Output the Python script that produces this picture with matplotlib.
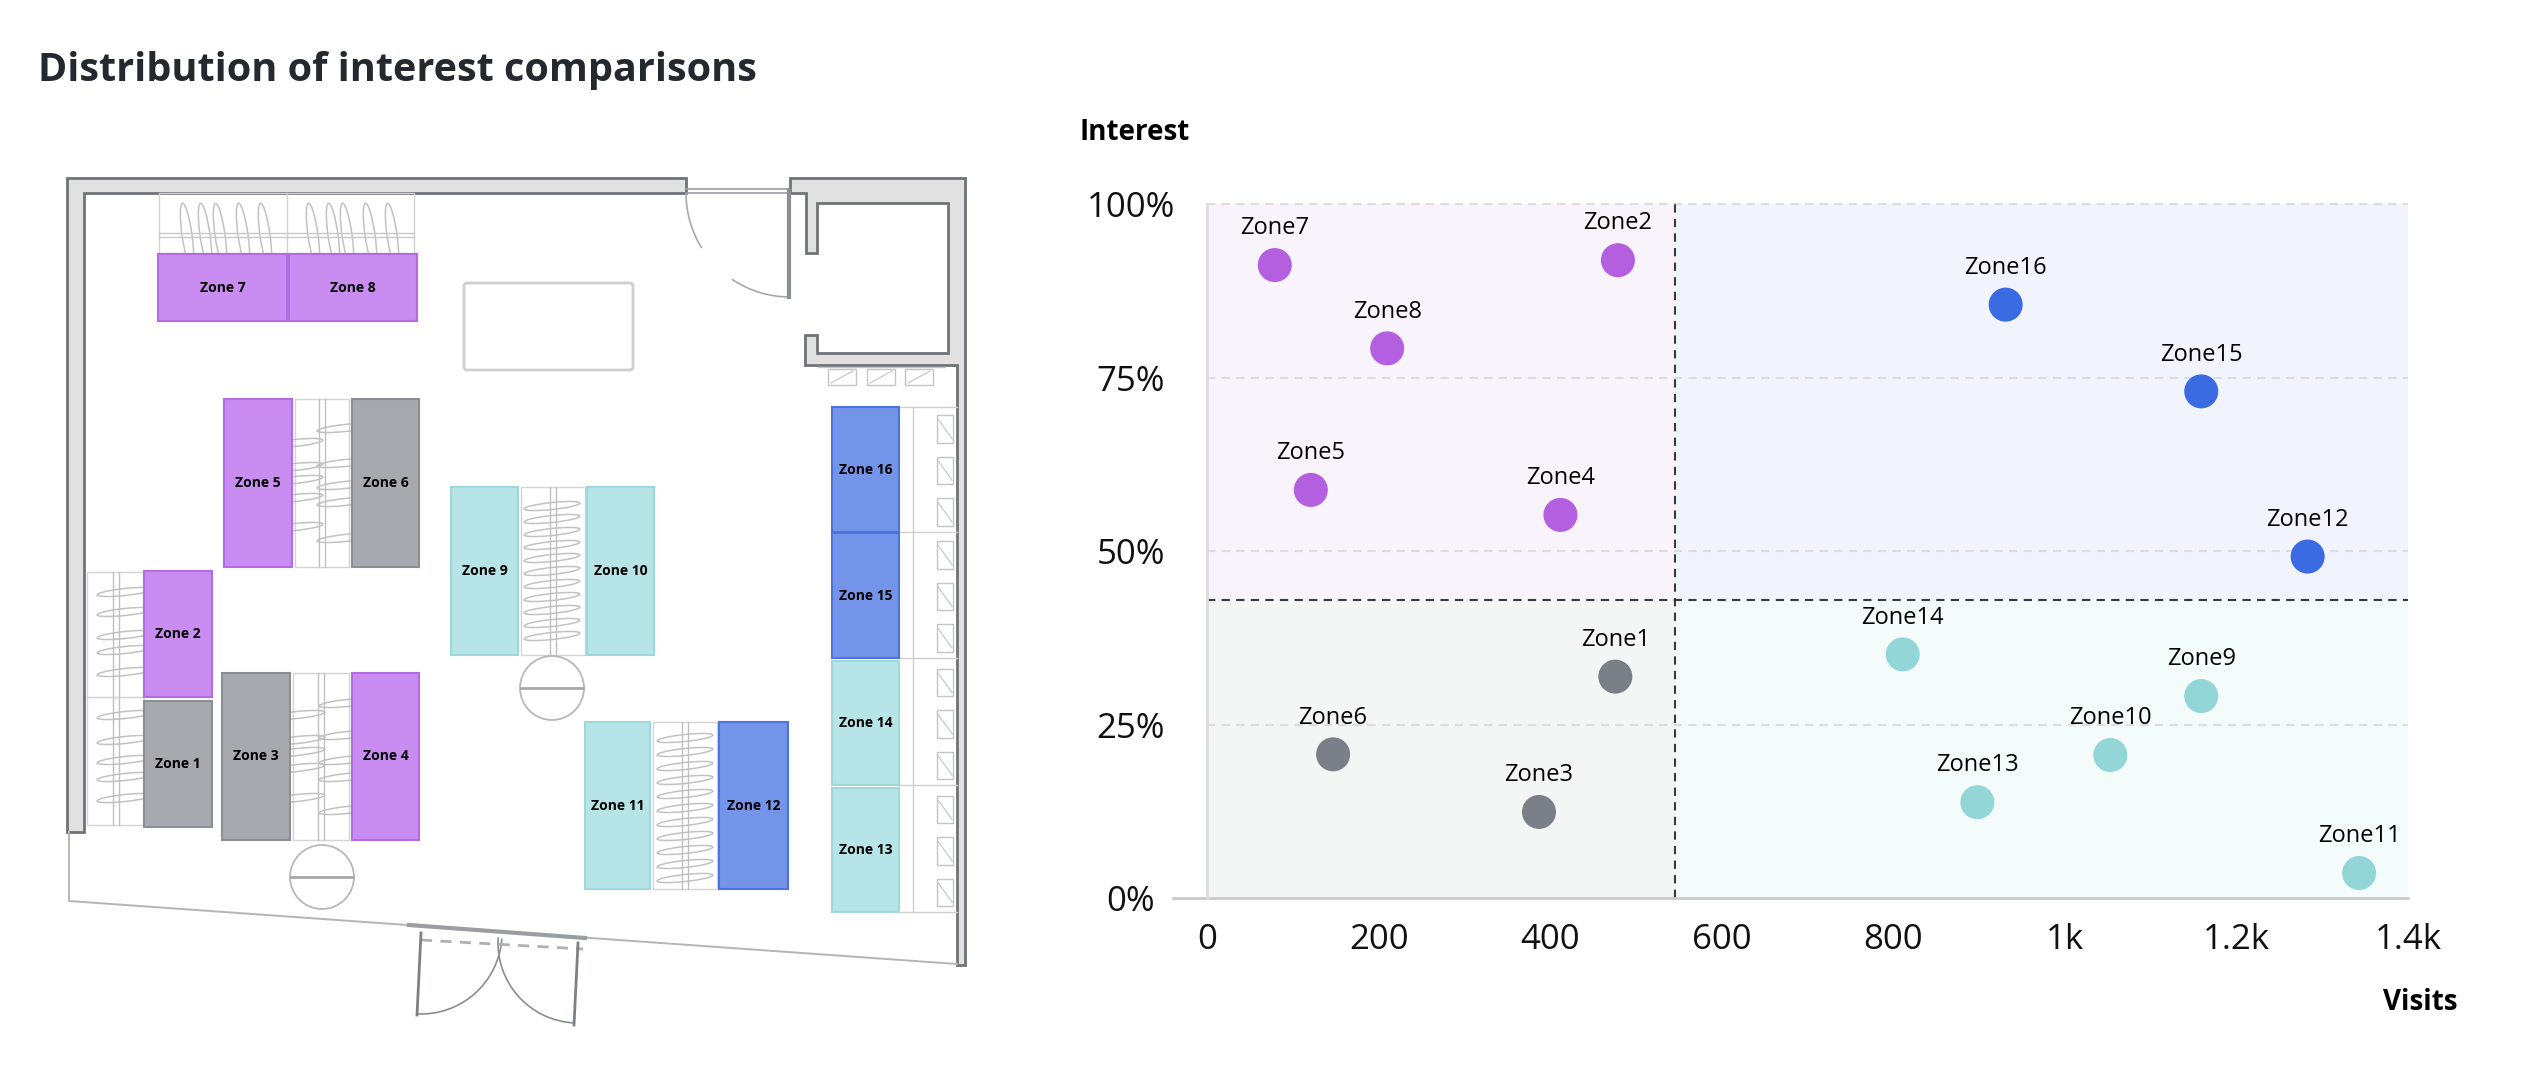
import matplotlib.pyplot as plt
from matplotlib.patches import Rectangle, Polygon, Circle, Arc, Ellipse, FancyBboxPatch

plt.rcParams['font.family'] = ['Open Sans', 'DejaVu Sans']

W, H = 2522, 1065

# scatter data
zones = ['Zone1', 'Zone2', 'Zone3', 'Zone4', 'Zone5', 'Zone6', 'Zone7', 'Zone8',
         'Zone9', 'Zone10', 'Zone11', 'Zone12', 'Zone13', 'Zone14', 'Zone15', 'Zone16']
visits = [476, 479, 387, 412, 121, 147, 79, 210, 1159, 1053, 1343, 1283, 898, 811, 1159, 931]
interest = [31.9, 91.9, 12.4, 55.2, 58.8, 20.7, 91.2, 79.2, 29.1, 20.6, 3.6, 49.2, 13.8, 35.1, 73.0, 85.5]
visit_split = 545
interest_split = 43

x_ticks = [0, 200, 400, 600, 800, 1000, 1200, 1400]
x_tick_labels = ['0', '200', '400', '600', '800', '1k', '1.2k', '1.4k']
y_ticks = [0, 25, 50, 75, 100]
y_tick_labels = ['0%', '25%', '50%', '75%', '100%']

# quadrant styles: (many visits, high interest) -> marker, background, plan fill, plan edge
quad_style = {
    (False, True): ('#b45ee0', '#f9f3fc', '#c98cf0', '#b46be6'),
    (True, True): ('#3a6be3', '#f1f4fd', '#7394e8', '#4c74dc'),
    (False, False): ('#7a7f88', '#f4f5f5', '#a6a9ae', '#8b8e93'),
    (True, False): ('#93d6d8', '#f4fbfb', '#b7e4e6', '#9fd8db'),
}

# floor plan zone boxes (plan pixel units: x0, y0, x1, y1)
plan_boxes = {
    'Zone1': (144, 701, 212, 827), 'Zone2': (144, 571, 212, 697),
    'Zone3': (222, 673, 290, 840), 'Zone4': (352, 673, 419, 840),
    'Zone5': (224, 399, 292, 567), 'Zone6': (352, 399, 419, 567),
    'Zone7': (158, 254, 287, 321), 'Zone8': (289, 254, 417, 321),
    'Zone9': (451, 487, 518, 655), 'Zone10': (587, 487, 654, 655),
    'Zone11': (585, 722, 650, 889), 'Zone12': (719, 722, 788, 889),
    'Zone13': (832, 788, 899, 912), 'Zone14': (832, 661, 899, 785),
    'Zone15': (832, 533, 899, 658), 'Zone16': (832, 407, 899, 532),
}


def quad(i):
    return (visits[i] > visit_split, interest[i] > interest_split)


def fx(px):
    return px / W


def fy(py):
    return 1 - py / H


fig = plt.figure(figsize=(W / 100, H / 100), dpi=100)

fig.text(fx(38), fy(71), 'Distribution of interest comparisons', fontsize=28.5,
         weight='bold', color='#24292f', va='center', ha='left')

# ---------------- floor plan ----------------
ap = fig.add_axes([0, 0, fx(1000), 1])
ap.set_xlim(0, 1000)
ap.set_ylim(H, 0)
ap.axis('off')

wall_fc = '#e1e1e1'
wall_ec = '#6f7278'
thin = '#c4c4c4'
hang = '#c2c2c2'

ap.add_patch(Polygon([(67, 178), (686, 178), (686, 193), (84, 193), (84, 832), (67, 832)],
                     closed=True, fc=wall_fc, ec=wall_ec, lw=2))
ap.add_patch(Polygon([(790, 178), (965, 178), (965, 965), (957, 965), (957, 365), (805, 365),
                      (805, 335), (817, 335), (817, 353), (948, 353), (948, 203), (817, 203),
                      (817, 253), (806, 253), (806, 193), (790, 193)],
                     closed=True, fc=wall_fc, ec=wall_ec, lw=2))
ap.plot([686, 790], [189, 189], color='#9a9da2', lw=1.2)
ap.plot([686, 790], [193, 193], color='#9a9da2', lw=1.2)
ap.plot([789, 789], [190, 297], color='#8c8f94', lw=3)
ap.add_patch(Arc((790, 193), 208, 208, theta1=90, theta2=124, color='#a8a8a8', lw=1.2))
ap.add_patch(Arc((790, 193), 208, 208, theta1=148, theta2=180, color='#a8a8a8', lw=1.2))

# table
ap.add_patch(FancyBboxPatch((464, 283), 169, 87, boxstyle='round,pad=0,rounding_size=3',
                            fc='white', ec='#cfcfcf', lw=2))

# small boxes below the back room
ap.plot([818, 945], [367, 367], color=thin, lw=1)
for bx in [828, 867, 905]:
    ap.add_patch(Rectangle((bx, 369), 28, 16, fc='none', ec=thin, lw=1))
    ap.plot([bx + 3, bx + 25], [383, 371], color=thin, lw=0.8)

# outer bottom outline and entrance
ap.plot([69, 69, 957], [832, 901, 964], color='#b5b5b5', lw=1.4)
ap.plot([409, 585], [925, 938], color='#9a9da2', lw=3)
ap.plot([421, 583], [940, 949], color='#b0b0b0', lw=2, ls=(0, (4, 3)))
ap.plot([421, 417], [933, 1015], color='#7d8086', lw=2)
ap.plot([578, 574], [943, 1025], color='#7d8086', lw=2)
ap.add_patch(Arc((421, 933), 162, 162, theta1=4, theta2=93, color='#8a8d92', lw=1.2))
ap.add_patch(Arc((578, 943), 160, 160, theta1=93, theta2=184, color='#8a8d92', lw=1.2))

# top rack with vertical hangers
ap.add_patch(Rectangle((159, 193), 255, 60, fc='none', ec='#d2d2d2', lw=1))
ap.plot([287, 287], [193, 253], color='#d2d2d2', lw=1)
ap.plot([159, 414], [233, 233], color='#c8c8c8', lw=1)
ap.plot([159, 414], [237, 237], color='#c8c8c8', lw=1)
for hx in [187, 205, 220, 243, 265, 313, 333, 347, 370, 392]:
    ap.add_patch(Ellipse((hx, 235), 10, 64, angle=-8, fc='none', ec=hang, lw=1.1))

# vertical racks with horizontal hangers
racks = [
    (295, 399, 349, 567, [(295, 443), (295, 467), (295, 480), (295, 498), (295, 527),
                          (345, 428), (345, 463), (345, 485), (345, 502), (345, 538)]),
    (293, 673, 349, 840, [(297, 715), (297, 740), (297, 752), (297, 768), (297, 798),
                          (347, 703), (347, 735), (347, 760), (347, 777), (347, 810)]),
    (87, 572, 144, 825, [(125, y) for y in [592, 612, 635, 650, 672, 715, 740, 760, 777, 798]]),
    (521, 487, 585, 655, [(552, y) for y in [506, 519, 532, 545, 558, 571, 584, 597, 610, 623, 636]]),
    (653, 722, 717, 889, [(685, y) for y in [738, 752, 766, 780, 794, 808, 822, 836, 850, 864, 878]]),
]
for x0, y0, x1, y1, hangers in racks:
    ap.add_patch(Rectangle((x0, y0), x1 - x0, y1 - y0, fc='none', ec='#d4d4d4', lw=1))
    cx = (x0 + x1) / 2
    ap.plot([cx - 3, cx - 3], [y0, y1], color='#c0c0c0', lw=1)
    ap.plot([cx + 3, cx + 3], [y0, y1], color='#c0c0c0', lw=1)
    for hx, hy in hangers:
        ap.add_patch(Ellipse((hx, hy), 56, 7, angle=-6, fc='none', ec=hang, lw=1.1))

ap.plot([87, 144], [697, 697], color='#d0d0d0', lw=1)

# round tables
for cx, cy in [(322, 877), (552, 688)]:
    ap.add_patch(Circle((cx, cy), 32, fc='white', ec='#b8b8b8', lw=1.3))
    ap.plot([cx - 31, cx + 31], [cy, cy], color='#a8a8a8', lw=2)

# right wall shelf
ap.plot([913, 913], [407, 912], color='#cfcfcf', lw=1)
for yy in [407, 532, 658, 785, 912]:
    ap.plot([899, 957], [yy, yy], color='#cfcfcf', lw=1)
for name in ['Zone16', 'Zone15', 'Zone14', 'Zone13']:
    y0, y1 = plan_boxes[name][1], plan_boxes[name][3]
    step = (y1 - y0) / 3
    for k in range(3):
        by = y0 + step * k + 8
        ap.add_patch(Rectangle((937, by), 16, step - 14, fc='none', ec=thin, lw=1))
        ap.plot([938, 952], [by + 4, by + step - 18], color=thin, lw=0.8)

# zone boxes on the plan
for i, name in enumerate(zones):
    x0, y0, x1, y1 = plan_boxes[name]
    _, _, fc, ec = quad_style[quad(i)]
    ap.add_patch(Rectangle((x0, y0), x1 - x0, y1 - y0, fc=fc, ec=ec, lw=1.5, zorder=3))
    ap.text((x0 + x1) / 2, (y0 + y1) / 2, name.replace('Zone', 'Zone '), fontsize=10,
            weight='bold', ha='center', va='center', color='black', zorder=4)

# ---------------- scatter ----------------
left, right, top, bottom = 1207, 2408, 204, 898
ax = fig.add_axes([fx(left), fy(bottom), (right - left) / W, (bottom - top) / H])
ax.set_xlim(0, 1400)
ax.set_ylim(0, 100)

quads = [((False, True), 0, visit_split, interest_split, 100),
         ((True, True), visit_split, 1400, interest_split, 100),
         ((False, False), 0, visit_split, 0, interest_split),
         ((True, False), visit_split, 1400, 0, interest_split)]
for key, xa, xb, ya, yb in quads:
    ax.add_patch(Rectangle((xa, ya), xb - xa, yb - ya, fc=quad_style[key][1], ec='none', zorder=0))

for yv in [25, 50, 75, 100]:
    ax.axhline(yv, color='#dcdce2', lw=1.5, ls=(0, (4, 3)), zorder=1, clip_on=False)
ax.axvline(visit_split, color='#3a3a3a', lw=1.5, ls=(0, (4, 3)), zorder=2)
ax.axhline(interest_split, color='#3a3a3a', lw=1.5, ls=(0, (4, 3)), zorder=2)
ax.axhline(0, xmin=-0.028, xmax=1, color='#cacaca', lw=2, clip_on=False, zorder=2)

for s in ax.spines.values():
    s.set_visible(False)
ax.spines['left'].set_visible(True)
ax.spines['left'].set_color('#dcdcdc')
ax.spines['left'].set_linewidth(2)

colors = [quad_style[quad(i)][0] for i in range(len(zones))]
ax.scatter(visits, interest, s=600, c=colors, linewidths=0, zorder=4, clip_on=False)
for i, name in enumerate(zones):
    ax.annotate(name, (visits[i], interest[i]), xytext=(0, 26.5), textcoords='offset points',
                ha='center', va='center', fontsize=17, color='black', zorder=5,
                annotation_clip=False)

ax.set_xticks(x_ticks)
ax.set_xticklabels(x_tick_labels)
ax.set_yticks(y_ticks)
ax.set_yticklabels(y_tick_labels)
ax.tick_params(axis='x', length=0, pad=18, labelsize=25, labelcolor='#111111')
ax.tick_params(axis='y', length=0, pad=55, labelsize=25, labelcolor='#111111')
for lab in ax.get_yticklabels():
    lab.set_horizontalalignment('center')

fig.text(fx(1080), fy(133), 'Interest', fontsize=20, weight='bold', ha='left', va='center')
fig.text(fx(2420), fy(1003), 'Visits', fontsize=20, weight='bold', ha='center', va='center')

fig.savefig('out.png', dpi=100)
